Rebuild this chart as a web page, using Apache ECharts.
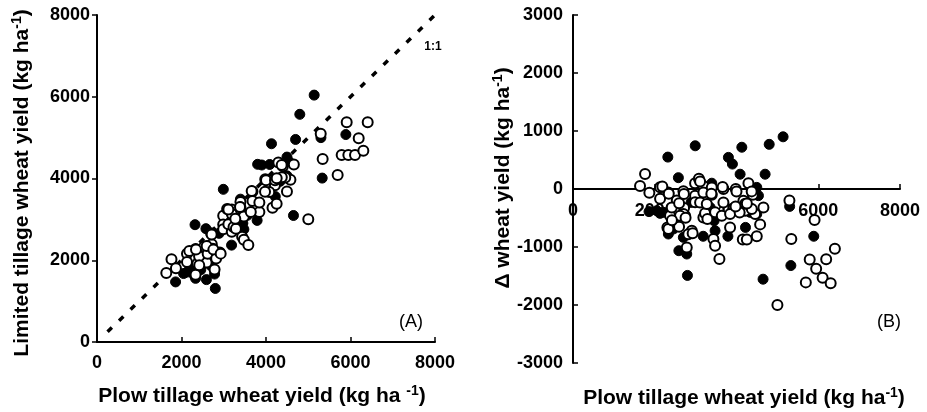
<!DOCTYPE html>
<html>
<head>
<meta charset="utf-8">
<script src="https://cdn.jsdelivr.net/npm/echarts@6/dist/echarts.min.js"></script>
<style>html,body{margin:0;padding:0;background:#fff}#c{width:927px;height:412px}</style>
</head>
<body>
<div id="c"></div>
<script>
// Plow tillage yield (kg/ha) and Δ = limited - plow (kg/ha), solid symbols
const solidPlow  = [5140,4800,4700,4130,5890,5330,4650,2990,2320,2578,3395,3802,3900,4088,4496,4537,5300,1860,2049,2130,2211,2333,2456,2590,2700,2783,2800,2889,3185,3354,3452,3476,3560,3790,4220,4333,4496,4211];
const solidDelta = [900,770,255,720,-815,-1320,-1555,745,550,195,100,545,430,255,28,-115,-300,-390,-374,-420,-403,-776,-690,-1064,-834,-1121,-1490,-231,-815,-317,-546,-719,-460,-815,-662,-403,-431,-345];
// open symbols
const openPlow  = [5295,5910,6407,6194,5791,5949,6107,6304,5696,5341,5001,
  1763,1640,1868,2130,2333,2130,2539,2701,2717,2742,2309,2595,2906,2783,2987,3080,3190,2987,3190,2987,3395,3395,3680,3982,4292,4399,4659,3680,3190,3476,3843,4169,4211,4154,4252,4496,4578,4456,3435,3476,3582,2374,2416,3109,2701,3231,3288,3640,4374,3843,2333,2619,3273,4000,4213,2420,2820,4077,
  2185,2343,2596,2754,2927,2714,3109,3385,3661,4371,3977,4253];
const openDelta = [-200,-535,-1032,-1211,-1216,-1374,-1532,-1624,-1610,-864,-2000,
  260,50,-65,30,-59,-170,-200,-40,-328,-460,-662,-650,-719,-1007,100,175,50,-115,-59,-230,28,-100,0,0,100,-100,-317,-231,-490,-403,-662,-202,-374,-870,-870,-815,-610,-431,-862,-977,-1207,-460,-317,-231,-431,-420,-517,-460,-345,-431,-690,-460,-259,-42,-255,-540,-780,-405,
  43,-83,-246,-494,-765,-86,131,-80,35,-41,-301,-249];
const oneToOne = [[250,250],[8000,8000]];

const FF = "'Liberation Sans', Arial, sans-serif";
const pairsA = (p,d)=>p.map((v,i)=>[v, v + d[i]]);
const pairsB = (p,d)=>p.map((v,i)=>[v, d[i]]);

const chart = echarts.init(document.getElementById('c'), null, {renderer:'canvas'});
const axLine = {show:true, onZero:false, lineStyle:{color:'#000', width:2}};
const lab = {color:'#000', fontWeight:'bold', fontSize:18, fontFamily:FF, formatter:(v)=>String(v)};
const solidStyle = {color:'#000', borderColor:'#000', borderWidth:1, opacity:1};
const openStyle = {color:'#fff', borderColor:'#000', borderWidth:2, opacity:1};
const sup = {s:{fontSize:14, fontWeight:'bold', fontFamily:FF, fill:'#000', padding:[0,0,10,0]}};
const titleStyle = (t)=>({text:t, fill:'#000', font:"bold 21px " + FF, align:'center', verticalAlign:'middle', rich:sup});
const tick = (inside)=>({show:true, inside:inside, length:5, lineStyle:{color:'#000', width:1.5}});

chart.setOption({
  animation:false,
  backgroundColor:'#fff',
  grid:[
    {left:97, top:15, width:338, height:327},
    {left:573, top:15, width:327, height:348}
  ],
  xAxis:[
    {gridIndex:0, type:'value', min:0, max:8000, interval:2000, axisLine:axLine, axisTick:tick(true),
     axisLabel:Object.assign({margin:12}, lab), splitLine:{show:false}},
    {gridIndex:1, type:'value', min:0, max:8000, interval:2000, position:'bottom', offset:-174, axisLine:axLine, axisTick:tick(true),
     axisLabel:Object.assign({margin:13}, lab), splitLine:{show:false}}
  ],
  yAxis:[
    {gridIndex:0, type:'value', min:0, max:8000, interval:2000, axisLine:axLine, axisTick:tick(false),
     axisLabel:Object.assign({margin:7}, lab), splitLine:{show:false}},
    {gridIndex:1, type:'value', min:-3000, max:3000, interval:1000, axisLine:axLine, axisTick:tick(true),
     axisLabel:Object.assign({margin:10}, lab), splitLine:{show:false}}
  ],
  series:[
    {type:'line', xAxisIndex:0, yAxisIndex:0, data:oneToOne, symbol:'none', silent:true,
     lineStyle:{color:'#000', width:3.5, type:[6,10]}, z:1},
    {type:'scatter', xAxisIndex:0, yAxisIndex:0, data:pairsA(solidPlow, solidDelta), symbolSize:10, itemStyle:solidStyle, z:2},
    {type:'scatter', xAxisIndex:0, yAxisIndex:0, data:pairsA(openPlow, openDelta), symbolSize:10, itemStyle:openStyle, z:3},
    {type:'scatter', xAxisIndex:1, yAxisIndex:1, data:pairsB(solidPlow, solidDelta), symbolSize:10, itemStyle:solidStyle, z:2},
    {type:'scatter', xAxisIndex:1, yAxisIndex:1, data:pairsB(openPlow, openDelta), symbolSize:10, itemStyle:openStyle, z:3}
  ],
  graphic:[
    {type:'text', x:22, y:183, rotation:Math.PI/2, style:titleStyle('Limited tillage wheat yield (kg ha{s|-1})')},
    {type:'text', x:262, y:396, style:titleStyle('Plow tillage wheat yield (kg ha {s|-1})')},
    {type:'text', x:744, y:398, style:titleStyle('Plow tillage wheat yield (kg ha{s|-1})')},
    {type:'text', x:503, y:178, rotation:Math.PI/2, style:titleStyle('\u0394 wheat yield (kg ha{s|-1})')},
    {type:'text', x:433, y:47, style:{text:'1:1', fill:'#000', font:'bold 12px ' + FF, align:'center', verticalAlign:'middle'}},
    {type:'text', x:411, y:322, style:{text:'(A)', fill:'#000', font:'18px ' + FF, align:'center', verticalAlign:'middle'}},
    {type:'text', x:889, y:322, style:{text:'(B)', fill:'#000', font:'18px ' + FF, align:'center', verticalAlign:'middle'}}
  ]
});
</script>
</body>
</html>
